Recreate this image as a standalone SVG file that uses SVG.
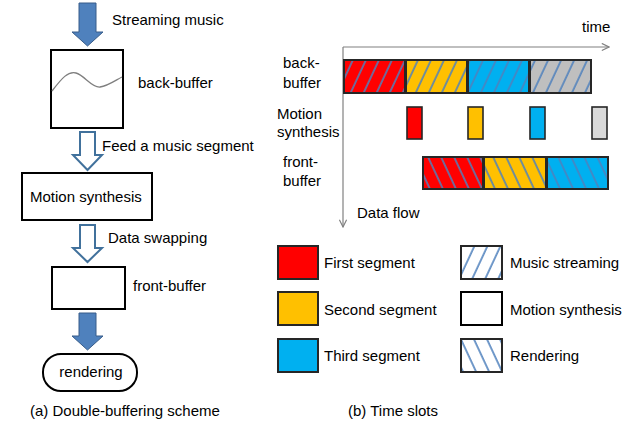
<svg xmlns="http://www.w3.org/2000/svg" width="628" height="425" viewBox="0 0 628 425">
<style>
text{font-family:"Liberation Sans",Arial,sans-serif;font-size:15px;fill:#000}
.box{fill:#fff;stroke:#000;stroke-width:2}
.fa{fill:#4f81bd;stroke:#385d8a;stroke-width:1}
.ha{fill:#fff;stroke:#41719c;stroke-width:2}
.seg{stroke:#262626;stroke-width:2}
.ms{stroke:#262626;stroke-width:1.6}
.axis{stroke:#808080;stroke-width:1.2;fill:none}
.red{fill:#ff0000}.org{fill:#ffc000}.blu{fill:#00b0f0}.gry{fill:#bfbfbf}.lgy{fill:#d9d9d9}
</style>
<defs>
<pattern id="hf" patternUnits="userSpaceOnUse" width="11.8" height="20" patternTransform="rotate(25)">
<line x1="3" y1="-2" x2="3" y2="22" stroke="#4f81bd" stroke-width="1.6"/>
</pattern>
<pattern id="hb" patternUnits="userSpaceOnUse" width="11.8" height="20" patternTransform="rotate(-25)">
<line x1="3" y1="-2" x2="3" y2="22" stroke="#4f81bd" stroke-width="1.6"/>
</pattern>
<marker id="open" viewBox="0 0 10 10" refX="9" refY="5" markerWidth="9" markerHeight="9" markerUnits="userSpaceOnUse" orient="auto">
<path d="M1,1 L9,5 L1,9" fill="none" stroke="#808080" stroke-width="1.3"/>
</marker>
</defs>

<g id="connectors">
<polygon class="fa" points="79,3 96,3 96,32 103,32 87.5,46 72,32 79,32"/>
<polygon class="ha" points="80,132 95,132 95,155 102,155 87.5,170 73,155 80,155"/>
<polygon class="ha" points="80,225 95,225 95,248 102,248 87.5,262 73,248 80,248"/>
<polygon class="fa" points="79,313 96,313 96,336 103,336 87.5,350 72,336 79,336"/>
<line class="axis" x1="343" y1="47" x2="609" y2="47" marker-end="url(#open)"/>
<line class="axis" x1="343" y1="47" x2="343" y2="227" marker-end="url(#open)"/>
</g>

<g id="label-streaming"><text x="112" y="25">Streaming music</text></g>
<g id="back-buffer">
<rect class="box" x="51" y="50" width="72" height="78"/>
<path d="M52,91 C62,78 68,71 76,73 S92,88 100,87 S116,80 122,77" fill="none" stroke="#7f7f7f" stroke-width="1.3"/>
<text x="138" y="88">back-buffer</text>
</g>
<g id="label-feed"><text x="102" y="151">Feed a music segment</text></g>
<g id="motion-synthesis">
<rect class="box" x="22" y="173" width="130" height="47"/>
<text x="30" y="202">Motion synthesis</text>
</g>
<g id="label-swap"><text x="108" y="243">Data swapping</text></g>
<g id="front-buffer">
<rect class="box" x="52" y="267" width="73" height="42"/>
<text x="133" y="291">front-buffer</text>
</g>
<g id="rendering">
<rect class="box" x="43" y="354" width="94" height="37" rx="18"/>
<text x="91" y="377" text-anchor="middle">rendering</text>
</g>
<g id="caption-a"><text x="30" y="416">(a) Double-buffering scheme</text></g>

<g id="time-chart">
<text x="582" y="32">time</text>
<text x="283" y="68">back-</text>
<text x="283" y="88">buffer</text>
<text x="277" y="119">Motion</text>
<text x="277" y="137">synthesis</text>
<text x="283" y="167">front-</text>
<text x="283" y="186">buffer</text>
<text x="357" y="218">Data flow</text>
</g>

<g id="back-buffer-row">
<rect class="red" x="344" y="60" width="61" height="33"/>
<rect class="org" x="406" y="60" width="61" height="33"/>
<rect class="blu" x="468" y="60" width="61" height="33"/>
<rect class="gry" x="530" y="60" width="61" height="33"/>
<rect fill="url(#hf)" x="344" y="60" width="247" height="33"/>
<rect class="seg" fill="none" x="344" y="60" width="61" height="33"/>
<rect class="seg" fill="none" x="406" y="60" width="61" height="33"/>
<rect class="seg" fill="none" x="468" y="60" width="61" height="33"/>
<rect class="seg" fill="none" x="530" y="60" width="61" height="33"/>
</g>

<g id="motion-row">
<rect class="red ms" x="407" y="107" width="15" height="32"/>
<rect class="org ms" x="468" y="107" width="15" height="32"/>
<rect class="blu ms" x="530" y="107" width="15" height="32"/>
<rect class="lgy ms" x="592" y="107" width="15" height="32"/>
</g>

<g id="front-buffer-row">
<rect class="red" x="423" y="157" width="60" height="32"/>
<rect class="org" x="484" y="157" width="62" height="32"/>
<rect class="blu" x="547" y="157" width="61" height="32"/>
<rect fill="url(#hb)" x="423" y="157" width="185" height="32"/>
<rect class="seg" fill="none" x="423" y="157" width="60" height="32"/>
<rect class="seg" fill="none" x="484" y="157" width="62" height="32"/>
<rect class="seg" fill="none" x="547" y="157" width="61" height="32"/>
</g>

<g id="legend-first"><rect class="red seg" x="278" y="246" width="40" height="33"/><text x="324" y="268">First segment</text></g>
<g id="legend-second"><rect class="org seg" x="278" y="292" width="40" height="33"/><text x="324" y="315">Second segment</text></g>
<g id="legend-third"><rect class="blu seg" x="278" y="339" width="40" height="33"/><text x="324" y="361">Third segment</text></g>
<g id="legend-streaming"><rect x="461" y="246" width="41" height="33" fill="#fff"/><rect x="461" y="246" width="41" height="33" fill="url(#hf)"/><rect class="seg" fill="none" x="461" y="246" width="41" height="33"/><text x="510" y="268">Music streaming</text></g>
<g id="legend-motion"><rect class="box" x="461" y="292" width="41" height="33"/><text x="510" y="315">Motion synthesis</text></g>
<g id="legend-rendering"><rect x="461" y="339" width="41" height="33" fill="#fff"/><rect x="461" y="339" width="41" height="33" fill="url(#hb)"/><rect class="seg" fill="none" x="461" y="339" width="41" height="33"/><text x="510" y="361">Rendering</text></g>

<g id="caption-b"><text x="348" y="416">(b) Time slots</text></g>
</svg>
